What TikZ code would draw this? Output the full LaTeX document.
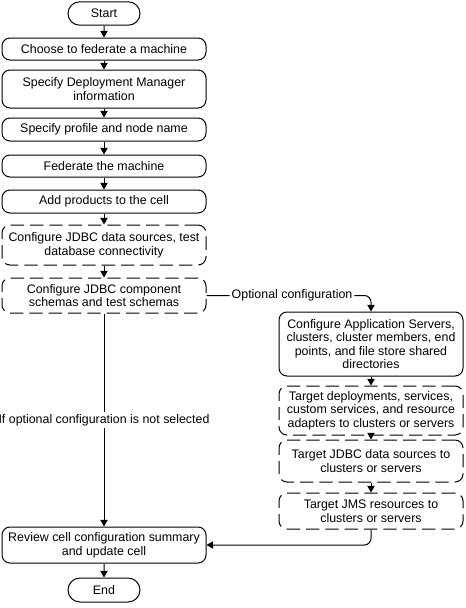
\documentclass[tikz,border=0pt]{standalone}
\usepackage{fontspec}
\setmainfont{Liberation Sans}
\usetikzlibrary{shapes.misc, arrows.meta, positioning}

\begin{document}
\begin{tikzpicture}[x=0.75pt, y=-0.75pt,
  line width=0.75pt, font=\fontsize{9.3}{10.2}\selectfont,
  stepbox/.style={draw, rectangle, rounded corners=6pt, align=center, inner sep=0pt, minimum width=153pt},
  optbox/.style={stepbox, dash pattern=on 10pt off 4.5pt},
  termbox/.style={draw, rounded rectangle, minimum width=54pt, minimum height=17.5pt, inner sep=0pt},
  arr/.style={-{Triangle[width=5.5pt,length=5pt]}}]

  \useasboundingbox (0,0) rectangle (465,608);

  % main column
  \node[termbox] (start) at (104,13.5) {Start};
  \node[stepbox, minimum height=16.5pt] (choose) at (104,49) {Choose to federate a machine};
  \node[stepbox, minimum height=28.5pt] (dmgr) at (104,89) {Specify Deployment Manager\\information};
  \node[stepbox, minimum height=17.25pt] (profile) at (104,129.5) {Specify profile and node name};
  \node[stepbox, minimum height=16.5pt] (federate) at (104,166) {Federate the machine};
  \node[stepbox, minimum height=17.25pt] (products) at (104,201.5) {Add products to the cell};
  \node[optbox, minimum height=30pt] (jdbcds) at (104,245) {Configure JDBC data sources, test\\database connectivity};
  \node[optbox, minimum height=26.25pt] (schemas) at (104,295.5) {Configure JDBC component\\schemas and test schemas};
  \node[stepbox, minimum height=27pt] (review) at (104,545) {Review cell configuration summary\\and update cell};
  \node[termbox, minimum height=18pt] (end) at (104,590) {End};

  % optional column
  \node[stepbox, minimum width=138pt, minimum height=48pt] (appsrv) at (371,344) {Configure Application Servers,\\clusters, cluster members, end\\points, and file store shared\\directories};
  \node[optbox, minimum width=138pt, minimum height=36.75pt] (deploy) at (371,410.5) {Target deployments, services,\\custom services, and resource\\adapters to clusters or servers};
  \node[optbox, minimum width=138pt, minimum height=31.5pt] (tjdbc) at (371,461) {Target JDBC data sources to\\clusters or servers};
  \node[optbox, minimum width=138pt, minimum height=27pt] (tjms) at (371,511) {Target JMS resources to\\clusters or servers};

  \foreach \a/\b in {start/choose, choose/dmgr, dmgr/profile, profile/federate,
    federate/products, products/jdbcds, jdbcds/schemas, review/end,
    appsrv/deploy, deploy/tjdbc, tjdbc/tjms}
    \draw[arr] (\a) -- (\b);

  \draw[arr] (schemas) -- node[fill=white, inner sep=1.5pt] {If optional configuration is not selected} (review);
  \draw[arr, rounded corners=5pt] (schemas.east) -| node[pos=0.26, fill=white, inner sep=1.5pt] {Optional configuration} (appsrv.north);
  \draw[arr, rounded corners=5pt] (tjms.south) |- (review.east);
\end{tikzpicture}
\end{document}
